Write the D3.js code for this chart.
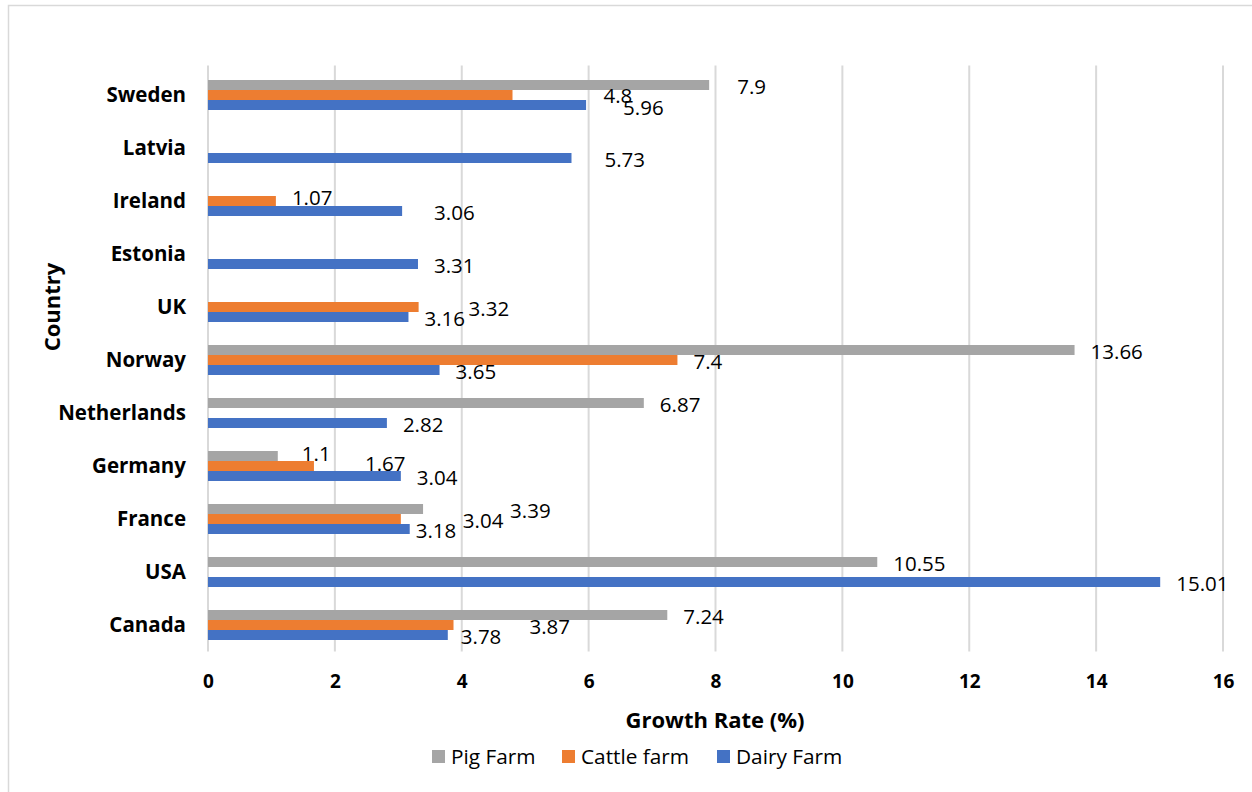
<!DOCTYPE html>
<html>
<head>
<meta charset="utf-8">
<script src="https://cdn.jsdelivr.net/npm/d3@7"></script>
<style>
  body { margin: 0; background: #fff; }
  text { font-family: "Open Sans", sans-serif; fill: #000; }
</style>
</head>
<body>
<div id="chart"></div>
<script>
// data
const countries = ["Sweden", "Latvia", "Ireland", "Estonia", "UK", "Norway", "Netherlands", "Germany", "France", "USA", "Canada"]
const seriesNames = ["Pig Farm", "Cattle farm", "Dairy Farm"]
const pigFarm    = [7.9,  null, null, null, null, 13.66, 6.87, 1.1,  3.39, 10.55, 7.24]
const cattleFarm = [4.8,  null, 1.07, null, 3.32, 7.4,  null, 1.67, 3.04, null,  3.87]
const dairyFarm  = [5.96, 5.73, 3.06, 3.31, 3.16, 3.65, 2.82, 3.04, 3.18, 15.01, 3.78]
const xTicks = [0, 2, 4, 6, 8, 10, 12, 14, 16]

const colors = {"Pig Farm": "#a5a5a5", "Cattle farm": "#ed7d31", "Dairy Farm": "#4472c4"}

// the original chart has hand-dragged data labels; these are the pixel nudges (dx, dy)
const labelNudge = {
  "Sweden|Pig Farm": [12, 0], "Sweden|Cattle farm": [75, -1], "Sweden|Dairy Farm": [21, 1],
  "Latvia|Dairy Farm": [17, 0],
  "Ireland|Cattle farm": [0, -5], "Ireland|Dairy Farm": [16, 0],
  "UK|Cattle farm": [34, 0],
  "Germany|Pig Farm": [8, -4], "Germany|Cattle farm": [35, -4],
  "France|Pig Farm": [71, 0], "France|Cattle farm": [46, 0], "France|Dairy Farm": [-10, 0],
  "Canada|Cattle farm": [60, 0], "Canada|Dairy Farm": [-3, 0]
}

const rows = countries.map((c, i) => ({
  country: c,
  "Pig Farm": pigFarm[i],
  "Cattle farm": cattleFarm[i],
  "Dairy Farm": dairyFarm[i]
}))

const W = 1252, H = 792
const svg = d3.select("#chart").append("svg").attr("width", W).attr("height", H)

// outer chart border (cut off on right/bottom like the screenshot)
svg.append("rect")
  .attr("x", 8.5).attr("y", 5.5).attr("width", W + 20).attr("height", H + 20)
  .attr("fill", "none").attr("stroke", "#d9d9d9").attr("stroke-width", 1.5)

const plot = {left: 208, right: 1223, top: 68.5, bottom: 651.5}

const x = d3.scaleLinear().domain([0, 16]).range([plot.left, plot.right])
const y0 = d3.scaleBand().domain(countries).range([plot.top, plot.bottom])
const groupH = 30
const y1 = d3.scaleBand().domain(seriesNames).range([0, groupH])

// gridlines
svg.append("g")
  .selectAll("line")
  .data(xTicks)
  .join("line")
    .attr("x1", d => x(d)).attr("x2", d => x(d))
    .attr("y1", plot.top - 3).attr("y2", plot.bottom)
    .attr("stroke", "#d9d9d9").attr("stroke-width", 2)

// x axis tick labels
const xAxis = svg.append("g")
  .attr("transform", `translate(0,${plot.bottom})`)
  .call(d3.axisBottom(x).tickValues(xTicks).tickSize(0).tickPadding(23).tickFormat(d3.format("d")))
xAxis.select(".domain").remove()
xAxis.selectAll("text")
  .style("font-family", "'Open Sans', sans-serif")
  .style("font-size", "19px").style("font-weight", "bold").attr("fill", "#000")

// y axis category labels
const yAxis = svg.append("g")
  .attr("transform", `translate(${plot.left},0)`)
  .call(d3.axisLeft(y0).tickSize(0).tickPadding(22))
yAxis.select(".domain").remove()
yAxis.selectAll("text")
  .style("font-family", "'Open Sans', sans-serif")
  .style("font-size", "20.5px").style("font-weight", "bold").attr("fill", "#000")

// bars
const groups = svg.append("g")
  .selectAll("g")
  .data(rows)
  .join("g")
    .attr("transform", d => `translate(0,${y0(d.country) + (y0.bandwidth() - groupH) / 2})`)

const cells = groups.selectAll("g.cell")
  .data(d => seriesNames.filter(s => d[s] != null).map(s => ({country: d.country, series: s, value: d[s]})))
  .join("g").attr("class", "cell")

cells.append("rect")
  .attr("x", x(0))
  .attr("y", d => y1(d.series))
  .attr("width", d => x(d.value) - x(0))
  .attr("height", y1.bandwidth())
  .attr("fill", d => colors[d.series])

cells.append("text")
  .attr("x", d => x(d.value) + 16 + (labelNudge[d.country + "|" + d.series] || [0, 0])[0])
  .attr("y", d => y1(d.series) + y1.bandwidth() / 2 + 2 + (labelNudge[d.country + "|" + d.series] || [0, 0])[1])
  .attr("dy", "0.35em")
  .style("font-size", "20.5px")
  .text(d => d.value)

// axis titles
svg.append("text")
  .attr("x", 715).attr("y", 728)
  .attr("text-anchor", "middle")
  .style("font-size", "22px").style("font-weight", "bold")
  .text("Growth Rate (%)")

svg.append("text")
  .attr("transform", "translate(60,307) rotate(-90)")
  .attr("text-anchor", "middle")
  .style("font-size", "22px").style("font-weight", "bold")
  .text("Country")

// legend
const legendX = [432, 562, 717]
const legend = svg.append("g")
  .selectAll("g")
  .data(seriesNames)
  .join("g")
    .attr("transform", (d, i) => `translate(${legendX[i]},750)`)
legend.append("rect").attr("width", 13).attr("height", 13).attr("fill", d => colors[d])
legend.append("text")
  .attr("x", 19).attr("y", 7).attr("dy", "0.35em")
  .style("font-size", "20.8px")
  .text(d => d)
</script>
</body>
</html>
